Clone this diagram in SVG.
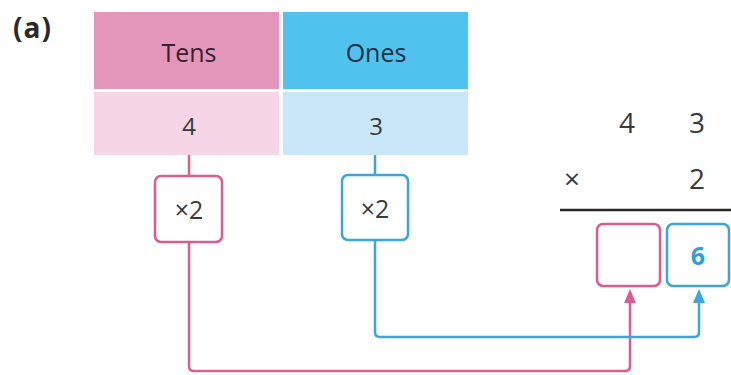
<svg xmlns="http://www.w3.org/2000/svg" width="731" height="375" viewBox="0 0 731 375">
  <style>
    .t { font-family: "Open Sans", "Noto Sans", sans-serif; text-anchor: middle; fill: #3a3a3a; }
    .hd { font-size: 25px; }
    .num { font-size: 24px; }
    .big { font-size: 28px; }
    .pinkS { fill: #ffffff; stroke: #d95c92; stroke-width: 2.5; }
    .blueS { fill: #ffffff; stroke: #3aa6dc; stroke-width: 2.5; }
    .pinkL { fill: none; stroke: #d95c92; stroke-width: 2.5; stroke-linejoin: round; }
    .blueL { fill: none; stroke: #3aa6dc; stroke-width: 2.5; stroke-linejoin: round; }
  </style>
  <rect width="731" height="375" fill="#ffffff"/>

  <text x="13" y="38" font-family="'Open Sans', sans-serif" font-weight="bold" font-size="28" letter-spacing="1" fill="#2a2a2a">(a)</text>

  <!-- place value table -->
  <g id="tens-header">
    <rect x="94" y="12" width="185" height="77" fill="#e495ba"/>
    <text class="t hd" x="189" y="62" style="fill:#3a1f2c">Tens</text>
  </g>
  <g id="ones-header">
    <rect x="283" y="12" width="185" height="77" fill="#4fc3ee"/>
    <text class="t hd" x="376" y="62" style="fill:#1e2f3e">Ones</text>
  </g>
  <g id="tens-value">
    <rect x="94" y="92" width="185" height="63" fill="#f6d6e6"/>
    <text class="t num" x="189" y="135">4</text>
  </g>
  <g id="ones-value">
    <rect x="283" y="92" width="185" height="63" fill="#c9e7f8"/>
    <text class="t num" x="376" y="135">3</text>
  </g>

  <!-- connectors -->
  <g id="connectors">
    <line class="pinkL" x1="189" y1="155" x2="189" y2="176"/>
    <line class="blueL" x1="375" y1="155" x2="375" y2="175"/>
    <path class="pinkL" d="M189,242 V366 Q189,371 194,371 H625 Q630,371 630,366 V298"/>
    <polygon points="630,289 624,303 636,303" fill="#d95c92"/>
    <path class="blueL" d="M375,240 V332 Q375,337 380,337 H694 Q699,337 699,332 V298"/>
    <polygon points="699,289 693,303 705,303" fill="#3aa6dc"/>
  </g>

  <g id="times-tens">
    <rect class="pinkS" x="155" y="176" width="67" height="66" rx="6"/>
    <text class="t hd" x="189" y="219">×2</text>
  </g>
  <g id="times-ones">
    <rect class="blueS" x="342" y="175" width="66" height="65" rx="6"/>
    <text class="t hd" x="375" y="218">×2</text>
  </g>

  <!-- column multiplication -->
  <g id="column-sum">
    <text class="t big" x="627" y="133">4</text>
    <text class="t big" x="697" y="133">3</text>
    <text class="t big" x="572" y="189">×</text>
    <text class="t big" x="697" y="189">2</text>
    <line x1="560" y1="210" x2="731" y2="210" stroke="#2a2a2a" stroke-width="2.5"/>
  </g>
  <g id="answer-tens">
    <rect class="pinkS" x="597" y="224" width="63" height="62" rx="6"/>
  </g>
  <g id="answer-ones">
    <rect class="blueS" x="667" y="224" width="62" height="62" rx="6"/>
    <text x="698" y="265" font-family="'Open Sans', sans-serif" font-weight="bold" font-size="25" fill="#2f9fd8" text-anchor="middle">6</text>
  </g>
</svg>
